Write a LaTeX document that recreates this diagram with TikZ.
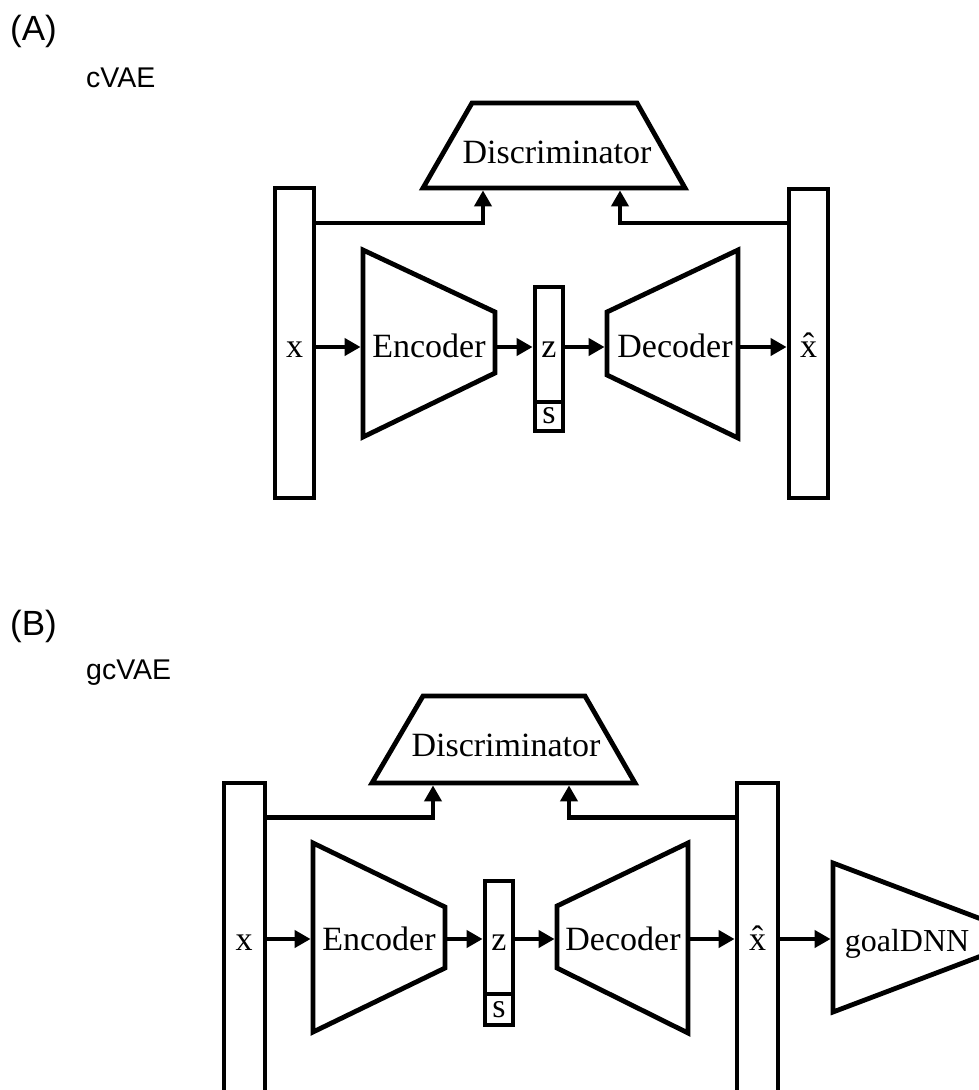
\documentclass[tikz,border=0pt]{standalone}
\usepackage{fontspec}
\setmainfont{Liberation Serif}
\newfontfamily\panelfont{Liberation Sans}
\usetikzlibrary{arrows.meta}
\begin{document}
\begin{tikzpicture}[x=1pt,y=-1pt,
  shp/.style={draw, line width=4.8pt, line join=miter},
  conn/.style={line width=4.8pt, line join=miter, -{Triangle[length=16pt,width=17pt]}},
  lbl/.style={font=\fontsize{34}{40}\selectfont, inner sep=0pt, anchor=base},
  panel/.style={font=\panelfont\fontsize{35}{40}\selectfont, inner sep=0pt, anchor=base west},
  title/.style={font=\panelfont\fontsize{28.5}{34}\selectfont, inner sep=0pt, anchor=base west},
  bar/.style={draw, line width=4.8pt, rectangle, inner sep=0pt}]
\useasboundingbox (0,0) rectangle (979,1090);
\clip (0,0) rectangle (979,1090);

% ---------------- Panel A ----------------
\node[panel] (pA) at (10,40) {(A)};
\node[title] (tA) at (86,87) {cVAE};

\node[bar, minimum width=39pt, minimum height=310pt] (xA) at (294.5,343) {};
\node[lbl] (xAl) at (294.5,357) {x};
\node[bar, minimum width=39pt, minimum height=309pt] (xhA) at (808.5,343.5) {};
\node[lbl] (xhAl) at (808.5,357) {\^{x}};

\draw[shp] (363,250) -- (495,312) -- (495,373) -- (363,437) -- cycle;
\node[lbl] (encAl) at (429,357) {Encoder};
\coordinate (encAin) at (360.6,347);
\coordinate (encAout) at (497.4,347);

\node[bar, minimum width=28pt, minimum height=115pt] (zA) at (549,344.5) {};
\node[bar, minimum width=28pt, minimum height=29pt] (sA) at (549,416.5) {};
\node[lbl] (zAl) at (549,357) {z};
\node[lbl] (sAl) at (549,423) {s};

\draw[shp] (607,312) -- (738,250) -- (738,438) -- (607,375) -- cycle;
\node[lbl] (decAl) at (675,357) {Decoder};
\coordinate (decAin) at (604.6,347);
\coordinate (decAout) at (740.4,347);

\draw[shp] (472,103) -- (637,103) -- (685,188) -- (423,188) -- cycle;
\node[lbl] (discAl) at (557,163) {Discriminator};
\coordinate (discAa) at (483,190.4);
\coordinate (discAb) at (620,190.4);
\coordinate (rowA) at (0,223);

\draw[conn] (xA.east |- encAin) -- (encAin);
\draw[conn] (encAout) -- (zA.west |- encAout);
\draw[conn] (zA.east |- decAin) -- (decAin);
\draw[conn] (decAout) -- (xhA.west |- decAout);
\draw[conn] (xA.east |- rowA) -| (discAa);
\draw[conn] (xhA.west |- rowA) -| (discAb);

% ---------------- Panel B ----------------
\node[panel] (pB) at (10,635) {(B)};
\node[title] (tB) at (86,679) {gcVAE};

\node[bar, minimum width=41pt, minimum height=327pt] (xB) at (244.5,946.5) {};
\node[lbl] (xBl) at (244,950) {x};
\node[bar, minimum width=41pt, minimum height=327pt] (xhB) at (757.5,946.5) {};
\node[lbl] (xhBl) at (757.5,950) {\^{x}};

\draw[shp] (313,843) -- (445,907) -- (445,968) -- (313,1032) -- cycle;
\node[lbl] (encBl) at (379,950) {Encoder};
\coordinate (encBin) at (310.6,939);
\coordinate (encBout) at (447.4,939);

\node[bar, minimum width=28pt, minimum height=113pt] (zB) at (499,937.5) {};
\node[bar, minimum width=28pt, minimum height=31pt] (sB) at (499,1009.5) {};
\node[lbl] (zBl) at (499,950) {z};
\node[lbl] (sBl) at (499,1017) {s};

\draw[shp] (557,906) -- (688,843) -- (688,1033) -- (557,968) -- cycle;
\node[lbl] (decBl) at (623,950) {Decoder};
\coordinate (decBin) at (554.6,939);
\coordinate (decBout) at (690.4,939);

\draw[shp] (833,863) -- (1005,928) -- (1005,947) -- (833,1012) -- cycle;
\node[lbl, font=\fontsize{32}{38}\selectfont] (gdBl) at (907,951) {goalDNN};
\coordinate (gdBin) at (830.6,939);

\draw[shp] (423,696) -- (585,696) -- (635,783) -- (372,783) -- cycle;
\node[lbl] (discBl) at (506,756) {Discriminator};
\coordinate (discBa) at (433,785.4);
\coordinate (discBb) at (569,785.4);
\coordinate (rowB) at (0,817.5);

\draw[conn] (xB.east |- encBin) -- (encBin);
\draw[conn] (encBout) -- (zB.west |- encBout);
\draw[conn] (zB.east |- decBin) -- (decBin);
\draw[conn] (decBout) -- (xhB.west |- decBout);
\draw[conn] (xhB.east |- gdBin) -- (gdBin);
\draw[conn] (xB.east |- rowB) -| (discBa);
\draw[conn] (xhB.west |- rowB) -| (discBb);
\end{tikzpicture}
\end{document}
